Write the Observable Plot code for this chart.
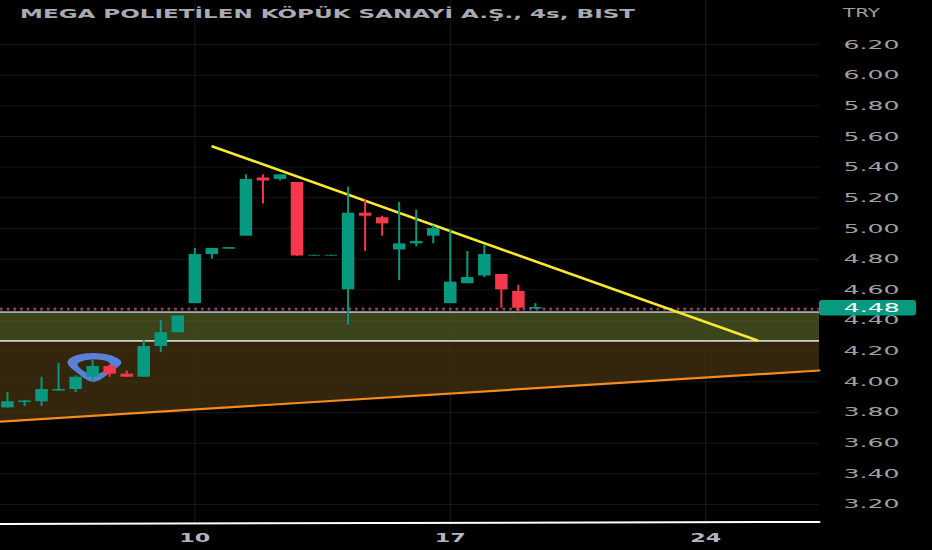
<!DOCTYPE html>
<html><head><meta charset="utf-8">
<style>
html,body{margin:0;padding:0;background:#000;width:932px;height:550px;overflow:hidden}
#wrap{position:relative;width:932px;height:550px}
#title{position:absolute;left:20px;top:6px;font:bold 12.5px "DejaVu Sans",sans-serif;color:#a9abb2;white-space:nowrap;transform-origin:left center}
#cur{position:absolute;left:843px;top:5px;font:12.5px "DejaVu Sans",sans-serif;color:#a0a0a0;transform-origin:left center}
</style>
<script src="https://cdn.jsdelivr.net/npm/d3@7"></script>
<script src="https://cdn.jsdelivr.net/npm/@observablehq/plot@0.6"></script>
</head><body><div id="wrap"><div id="title">MEGA POLIETİLEN KÖPÜK SANAYİ A.Ş., 4s, BIST</div><div id="cur">TRY</div></div>
<script>
const opens =[3.83,3.865,3.87,3.94,3.95,4.03,4.10,4.05,4.03,4.23,4.32,4.51,4.83,4.865,4.95,5.33,5.32,5.30,4.82,4.82,4.60,5.10,5.07,4.86,4.90,4.95,4.51,4.64,4.69,4.70,4.59,4.475];
const highs =[3.93,3.88,4.03,4.12,4.04,4.14,4.11,4.07,4.27,4.40,4.43,4.87,4.87,4.875,5.35,5.35,5.35,5.30,4.825,4.825,5.27,5.19,5.08,5.17,5.12,5.02,4.99,4.85,4.89,4.70,4.63,4.51];
const lows  =[3.83,3.84,3.84,3.94,3.93,4.00,4.03,4.03,4.03,4.19,4.32,4.51,4.80,4.865,4.95,5.16,5.31,4.82,4.82,4.82,4.37,4.85,4.95,4.66,4.88,4.90,4.51,4.64,4.68,4.48,4.45,4.47];
const closes=[3.87,3.875,3.95,3.95,4.03,4.10,4.05,4.03,4.23,4.32,4.43,4.83,4.87,4.875,5.32,5.31,5.35,4.82,4.825,4.825,5.10,5.08,5.03,4.90,4.915,5.00,4.65,4.68,4.83,4.60,4.48,4.485];
const yTicks=[3.2,3.4,3.6,3.8,4.0,4.2,4.4,4.6,4.8,5.0,5.2,5.4,5.6,5.8,6.0,6.2];
const dayTicks=[11,26,41];
const dayLabels=["10","17","24"];
const lastPrice=4.48;
const dottedRed=4.478, dottedBlue=4.469;
const zoneTop=4.455, zoneMid=4.267;
const xDomain=[-0.41,47.68];
const orangeX=[-0.41,47.68], orangeY=[3.741,4.074];
const yellowX=[12.04,44.04], yellowY=[5.535,4.27];
const whiteX=[-0.41,47.68], whiteY=[3.073,3.086];
const ringOuterX=[3.52,3.99,5.05,6.11,6.69,6.11,5.05,3.99];
const ringOuterY=[4.126,4.172,4.188,4.172,4.126,4.067,3.999,4.067];
const ringInnerX=[4.11,4.52,5.11,5.70,6.05,5.64,5.05,4.52];
const ringInnerY=[4.113,4.139,4.146,4.139,4.113,4.067,4.048,4.067];
const tagX=[47.68,53.38], tagY=[4.43,4.53];
const tagTextX=49.1;

const candles=opens.map((o,i)=>({i,o,h:highs[i],l:lows[i],c:closes[i],dir:closes[i]>=o?"up":"down"}));
const orange=orangeX.map((x,i)=>({x,y:orangeY[i]}));
const yellow=yellowX.map((x,i)=>({x,y:yellowY[i]}));
const white=whiteX.map((x,i)=>({x,y:whiteY[i]}));
const ringOuter=ringOuterX.map((x,i)=>({x,y:ringOuterY[i]}));
const ringInner=ringInnerX.map((x,i)=>({x,y:ringInnerY[i]}));
const teal="#089981", red="#f7374b", brown="#33260c";

const chart=Plot.plot({
  width:932,height:550,marginTop:0,marginLeft:0,marginRight:113,marginBottom:25,
  style:{background:"#000",overflow:"visible"},
  x:{domain:xDomain,axis:null},
  y:{domain:[3.063,6.487],axis:null},
  color:{domain:["up","down"],range:[teal,red]},
  marks:[
    Plot.ruleY(yTicks,{stroke:"#101010"}),
    Plot.ruleX(dayTicks,{stroke:"#151515"}),
    Plot.areaY(orange,{x:"x",y1:zoneMid,y2:"y",fill:brown,curve:"linear"}),
    Plot.rect([0],{x1:xDomain[0],x2:xDomain[1],y1:zoneTop,y2:zoneMid,fill:"#3c441c"}),
    Plot.ruleY(yTicks,{stroke:"#fff",strokeOpacity:0.035}),
    Plot.ruleX(dayTicks,{stroke:"#fff",strokeOpacity:0.035}),
    Plot.ruleY([zoneTop],{stroke:"#ababab",strokeWidth:1.8}),
    Plot.ruleY([zoneMid],{stroke:"#cfcfcf",strokeWidth:1.6}),
    Plot.ruleY([dottedBlue],{stroke:"#3b5fa8",strokeWidth:1.4,strokeDasharray:"2.6,4.1"}),
    Plot.ruleY([dottedRed],{stroke:"#e0354a",strokeWidth:1.4,strokeDasharray:"2.6,4.1"}),
    Plot.line(orange,{x:"x",y:"y",stroke:"#f58a1f",strokeWidth:2.2}),
    Plot.line(white,{x:"x",y:"y",stroke:"#fff",strokeWidth:2}),
    Plot.line(ringOuter,{x:"x",y:"y",curve:"cardinal-closed",stroke:"none",fill:"#5a7fd6"}),
    Plot.line(ringInner,{x:"x",y:"y",curve:"cardinal-closed",stroke:"none",fill:brown}),
    Plot.line(yellow,{x:"x",y:"y",stroke:"#f7e92f",strokeWidth:2.6}),
    Plot.ruleX(candles,{x:"i",y1:"l",y2:"h",stroke:"dir",strokeWidth:2}),
    Plot.ruleX(candles,{x:"i",y1:"o",y2:"c",stroke:"dir",strokeWidth:12.5}),
    Plot.axisY({anchor:"right",ticks:yTicks,tickSize:0,tickPadding:24,tickFormat:d=>d.toFixed(2),label:null,
      fontSize:12.5,fontFamily:"DejaVu Sans",fill:"#a0a0a0",className:"ya"}),
    Plot.rect([0],{x1:tagX[0],x2:tagX[1],y1:tagY[0],y2:tagY[1],fill:teal,rx:3}),
    Plot.text([lastPrice],{x:tagTextX,y:d=>d,text:d=>d.toFixed(2),fill:"#fff",fontSize:12.5,fontFamily:"DejaVu Sans",textAnchor:"start",className:"ya"}),
    Plot.axisX({ticks:dayTicks,tickSize:0,tickPadding:8,tickFormat:(d,i)=>dayLabels[dayTicks.indexOf(d)],label:null,
      fontSize:11.5,fontWeight:"bold",fontFamily:"DejaVu Sans",fill:"#b2b5be",className:"xa"})
  ]
});
document.getElementById("wrap").prepend(chart);
chart.querySelectorAll(".ya text,text.ya").forEach(t=>{t.setAttribute("textLength",56);t.setAttribute("lengthAdjust","spacingAndGlyphs");});
chart.querySelectorAll(".xa text,text.xa").forEach(t=>{t.setAttribute("textLength",31);t.setAttribute("lengthAdjust","spacingAndGlyphs");});
const fit=(id,w)=>{const e=document.getElementById(id);e.style.transform=`scaleX(${w/e.getBoundingClientRect().width})`;};
fit("title",615);fit("cur",37);
</script></body></html>
